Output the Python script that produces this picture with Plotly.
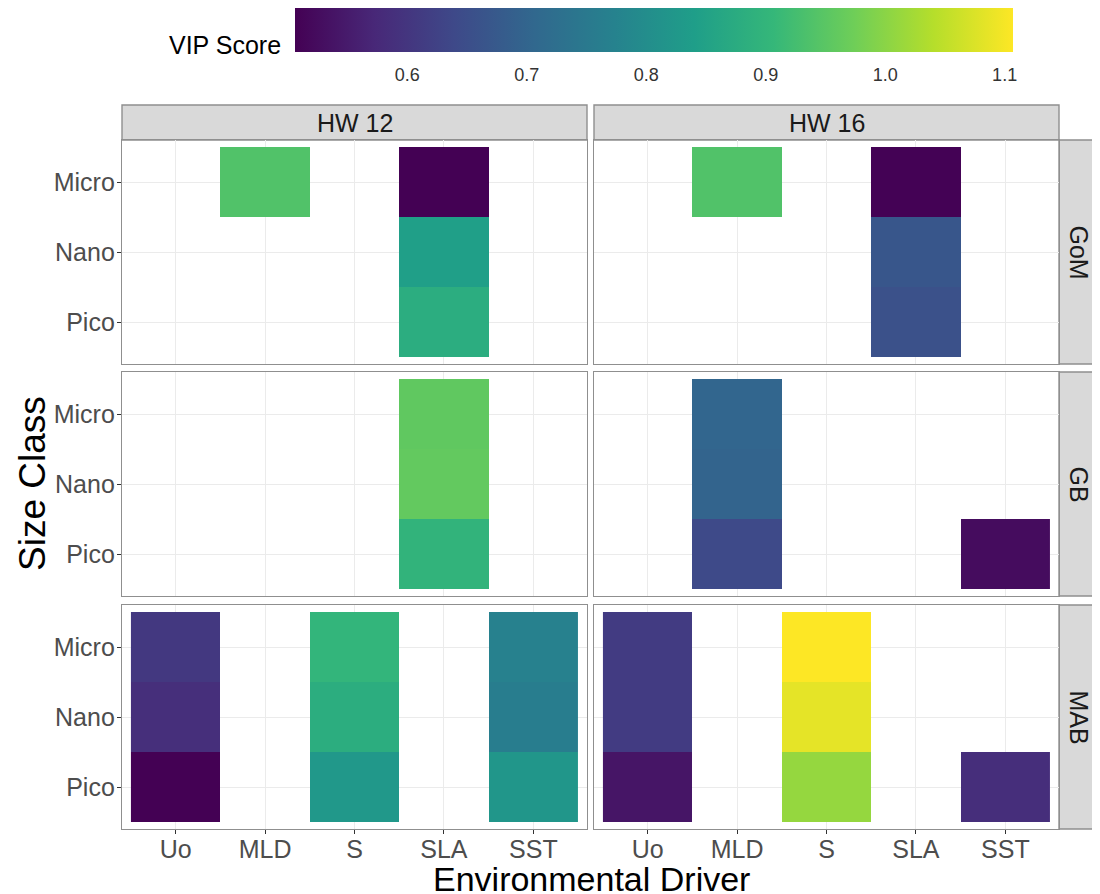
import plotly.graph_objects as go

# ---------------- data ----------------
drivers = ["Uo", "MLD", "S", "SLA", "SST"]
size_classes = ["Micro", "Nano", "Pico"]
heatwaves = ["HW 12", "HW 16"]
regions = ["GoM", "GB", "MAB"]

# VIP scores: rows = Micro, Nano, Pico ; columns = Uo, MLD, S, SLA, SST ; None = not shown
vip_gom_hw12 = [[None, 0.940, None, 0.506, None],
                [None, None, None, 0.843, None],
                [None, None, None, 0.879, None]]
vip_gom_hw16 = [[None, 0.940, None, 0.508, None],
                [None, None, None, 0.668, None],
                [None, None, None, 0.656, None]]
vip_gb_hw12 = [[None, None, None, 0.957, None],
               [None, None, None, 0.960, None],
               [None, None, None, 0.897, None]]
vip_gb_hw16 = [[None, 0.702, None, None, None],
               [None, 0.698, None, None, None],
               [None, 0.641, None, None, 0.524]]
vip_mab_hw12 = [[0.606, None, 0.900, None, 0.770],
                [0.586, None, 0.880, None, 0.760],
                [0.506, None, 0.825, None, 0.820]]
vip_mab_hw16 = [[0.612, None, 1.107, None, None],
                [0.612, None, 1.085, None, None],
                [0.540, None, 1.010, None, 0.584]]

panel_values = [[vip_gom_hw12, vip_gom_hw16],
                [vip_gb_hw12, vip_gb_hw16],
                [vip_mab_hw12, vip_mab_hw16]]

vip_min = 0.506
vip_max = 1.107
cbar_ticks = [0.6, 0.7, 0.8, 0.9, 1.0, 1.1]
cbar_ticktext = ["0.6", "0.7", "0.8", "0.9", "1.0", "1.1"]

# ---------------- layout geometry (page pixels) ----------------
OFF = 8                      # default body margin of the html page
W, H = 1100 - OFF, 894 - OFF  # figure size
col_px = [(122, 587), (594, 1059)]
row_px = [(140, 364), (372, 596), (605, 829)]
strip_top = (105, 140)
strip_right = (1059, 1098)

def px(x):
    return (x - OFF) / W

def py(y):
    return 1 - (y - OFF) / H

FONT = "Liberation Sans, Arial, sans-serif"
BORDER = "#8f8f8f"
STRIP_FILL = "#d9d9d9"

fig = go.Figure()
layout_axes = {}
shapes = []
annotations = []

for r in range(3):
    for c in range(2):
        idx = r * 2 + c + 1
        xa = "x" if idx == 1 else f"x{idx}"
        ya = "y" if idx == 1 else f"y{idx}"
        fig.add_trace(go.Heatmap(
            x=drivers, y=size_classes, z=panel_values[r][c],
            coloraxis="coloraxis", xaxis=xa, yaxis=ya,
            hoverongaps=False,
        ))
        x0, x1 = col_px[c]
        y0, y1 = row_px[r]
        bottom = (r == 2)
        left = (c == 0)
        layout_axes["xaxis" if idx == 1 else f"xaxis{idx}"] = dict(
            domain=[px(x0), px(x1)], anchor=ya,
            type="category", categoryorder="array", categoryarray=drivers,
            range=[-0.6, 4.6],
            showgrid=True, gridcolor="#ebebeb", gridwidth=1.2,
            showline=True, mirror=True, linecolor=BORDER, linewidth=1.4,
            zeroline=False,
            ticks="outside" if bottom else "", ticklen=4, tickcolor="#333333",
            showticklabels=bottom, ticklabelstandoff=-6,
            tickfont=dict(family=FONT, size=25, color="#4d4d4d"),
            fixedrange=True,
        )
        layout_axes["yaxis" if idx == 1 else f"yaxis{idx}"] = dict(
            domain=[py(y1), py(y0)], anchor=xa,
            type="category", categoryorder="array",
            categoryarray=list(reversed(size_classes)),
            range=[-0.6, 2.6],
            showgrid=True, gridcolor="#ebebeb", gridwidth=1.2,
            showline=True, mirror=True, linecolor=BORDER, linewidth=1.4,
            zeroline=False,
            ticks="outside" if left else "", ticklen=4, tickcolor="#333333",
            showticklabels=left, ticklabelstandoff=-3,
            tickfont=dict(family=FONT, size=25, color="#4d4d4d"),
            fixedrange=True,
        )

# top strips
for c, hw in enumerate(heatwaves):
    x0, x1 = col_px[c]
    shapes.append(dict(type="rect", xref="paper", yref="paper",
                       x0=px(x0), x1=px(x1), y0=py(strip_top[1]), y1=py(strip_top[0]),
                       fillcolor=STRIP_FILL, line=dict(color=BORDER, width=1.4), layer="below"))
    annotations.append(dict(xref="paper", yref="paper", x=px((x0 + x1) / 2),
                            y=py((strip_top[0] + strip_top[1]) / 2),
                            text=hw, showarrow=False, xanchor="center", yanchor="middle",
                            font=dict(family=FONT, size=25, color="#1a1a1a")))

# right strips
for r, reg in enumerate(regions):
    y0, y1 = row_px[r]
    shapes.append(dict(type="rect", xref="paper", yref="paper",
                       x0=px(strip_right[0]), x1=px(strip_right[1]), y0=py(y1), y1=py(y0),
                       fillcolor=STRIP_FILL, line=dict(color=BORDER, width=1.4), layer="below"))
    annotations.append(dict(xref="paper", yref="paper",
                            x=px((strip_right[0] + strip_right[1]) / 2),
                            y=py((y0 + y1) / 2),
                            text=reg, showarrow=False, textangle=90,
                            xanchor="center", yanchor="middle",
                            font=dict(family=FONT, size=25, color="#1a1a1a")))

# axis titles
annotations.append(dict(xref="paper", yref="paper", x=px(591), y=py(879),
                        text="Environmental Driver", showarrow=False,
                        xanchor="center", yanchor="middle",
                        font=dict(family=FONT, size=34, color="#000000")))
annotations.append(dict(xref="paper", yref="paper", x=px(32), y=py(484),
                        text="Size Class", showarrow=False, textangle=-90,
                        xanchor="center", yanchor="middle",
                        font=dict(family=FONT, size=37, color="#000000")))
# colorbar title
annotations.append(dict(xref="paper", yref="paper", x=px(283), y=py(45),
                        text="VIP Score", showarrow=False,
                        xanchor="right", yanchor="middle",
                        font=dict(family=FONT, size=25, color="#000000")))

fig.update_layout(
    width=W, height=H,
    margin=dict(l=0, r=0, t=0, b=0),
    paper_bgcolor="white", plot_bgcolor="white",
    showlegend=False,
    coloraxis=dict(
        colorscale="Viridis", cmin=vip_min, cmax=vip_max,
        colorbar=dict(
            orientation="h",
            x=px(654), xanchor="center",
            y=py(8), yanchor="top",
            len=718 / W, lenmode="fraction",
            thickness=44, thicknessmode="pixels",
            outlinewidth=0, xpad=0, ypad=0,
            tickvals=cbar_ticks, ticktext=cbar_ticktext,
            ticks="outside", ticklen=8, tickcolor="rgba(255,255,255,0)",
            tickfont=dict(family=FONT, size=18, color="#333333"),
        ),
    ),
    shapes=shapes,
    annotations=annotations,
    **layout_axes,
)

fig.write_html("out.html")
